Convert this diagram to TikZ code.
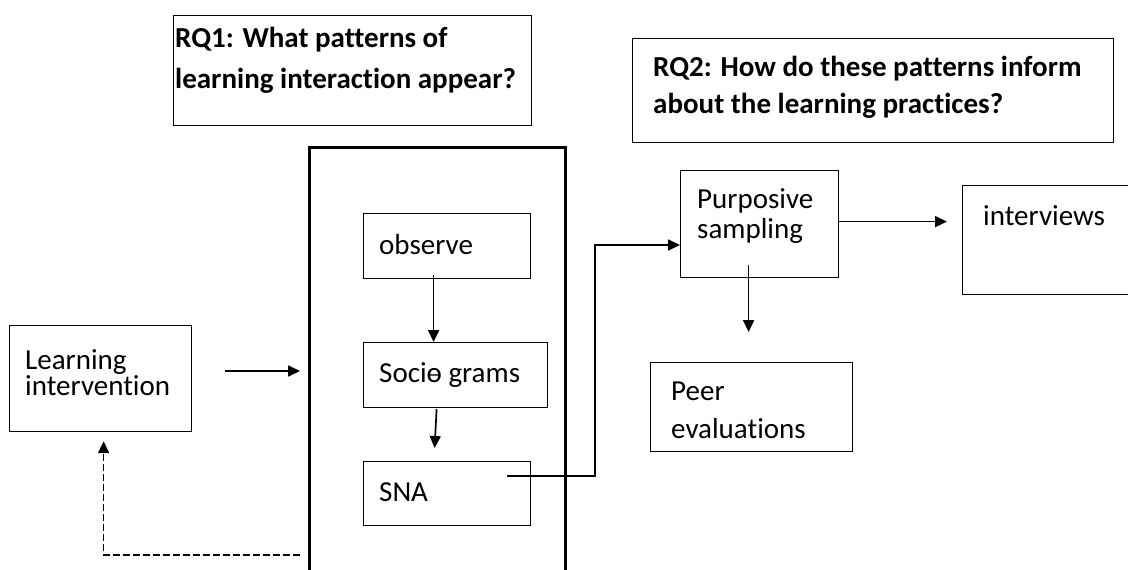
\documentclass[tikz,border=0pt]{standalone}
\usepackage{fontspec}
\setmainfont{Carlito}[Ligatures=CommonOff]
\usetikzlibrary{arrows.meta,calc}
\begin{document}
\begin{tikzpicture}[x=1pt,y=-1pt,
  box/.style={draw, line width=1.2pt, anchor=north west, inner sep=0pt},
  frame/.style={draw, line width=3pt, anchor=north west, inner sep=0pt},
  txt/.style={anchor=base west, inner sep=0pt, font=\fontsize{29pt}{34pt}\selectfont},
  rq/.style={anchor=base west, inner sep=0pt, font=\bfseries\fontsize{29pt}{34pt}\selectfont},
  arr/.style={-{Triangle[length=12pt,width=11pt]}, line width=1.7pt},
  fb/.style={arr, dash pattern=on 7pt off 3pt}]
\useasboundingbox (0,0) rectangle (1128,570);

% research questions
\node[box, minimum width=358pt, minimum height=110pt] (rq1) at (173,15) {};
\node[rq] (rq1a) at (175,47) {RQ1: What patterns of};
\node[rq] (rq1b) at (175,88) {learning interaction appear?};
\node[box, minimum width=481pt, minimum height=104pt] (rq2) at (632,38) {};
\node[rq] (rq2a) at (653,76) {RQ2: How do these patterns inform};
\node[rq] (rq2b) at (653,113) {about the learning practices?};

% SNA stage frame (open below the page edge)
\node[frame, minimum width=256pt, minimum height=470pt] (frame) at (308,146) {};

% boxes
\node[box, minimum width=182pt, minimum height=106pt] (learn) at (9,325) {};
\node[txt] (learnA) at (25,369) {Learning};
\node[txt] (learnB) at (25,395) {intervention};

\node[box, minimum width=167pt, minimum height=65pt] (obs) at (363,213) {};
\node[txt] (obsT) at (379,254) {observe};
\node[box, minimum width=184pt, minimum height=65pt] (soc) at (363,342) {};
\node[txt] (socT) at (379,382) {Sociɵ grams};
\node[box, minimum width=167pt, minimum height=64pt] (sna) at (363,461) {};
\node[txt] (snaT) at (379,501) {SNA};

\node[box, minimum width=158pt, minimum height=107pt] (purp) at (680,170) {};
\node[txt] (purpA) at (697,208) {Purposive};
\node[txt] (purpB) at (697,238) {sampling};
\node[box, minimum width=200pt, minimum height=109pt] (intv) at (962,185) {};
\node[txt] (intvT) at (983,225) {interviews};
\node[box, minimum width=202pt, minimum height=89pt] (peer) at (650,362) {};
\node[txt] (peerA) at (671,400) {Peer};
\node[txt] (peerB) at (671,438) {evaluations};

% connectors
\coordinate (c1) at (225,371);
\draw[arr] (c1) -- ($(c1 -| frame.west)+(-8,0)$);
\draw[arr] ($(obs.south)+(-13.5,-4)$) coordinate (c2) -- (c2 |- soc.north);
\draw[arr] ($(soc.south)+(-19,1)$) -- ($(sna.north)+(-12.5,-13)$);
\coordinate (c4) at (507,476);
\coordinate (turn) at (595,245);
\draw[arr] (c4) -| (turn) -- (turn -| purp.west);
\draw[arr] ($(purp.south)+(-11,-13)$) -- ($(peer.north)+(-3,-30)$);
\draw[arr] ($(purp.east)+(0,-2.5)$) coordinate (c7) -- ($(c7 -| intv.west)+(-15,0)$);
\coordinate (d0) at (300,555);
\draw[fb] (d0) -| ($(learn.south)+(3,9)$);
\end{tikzpicture}
\end{document}
